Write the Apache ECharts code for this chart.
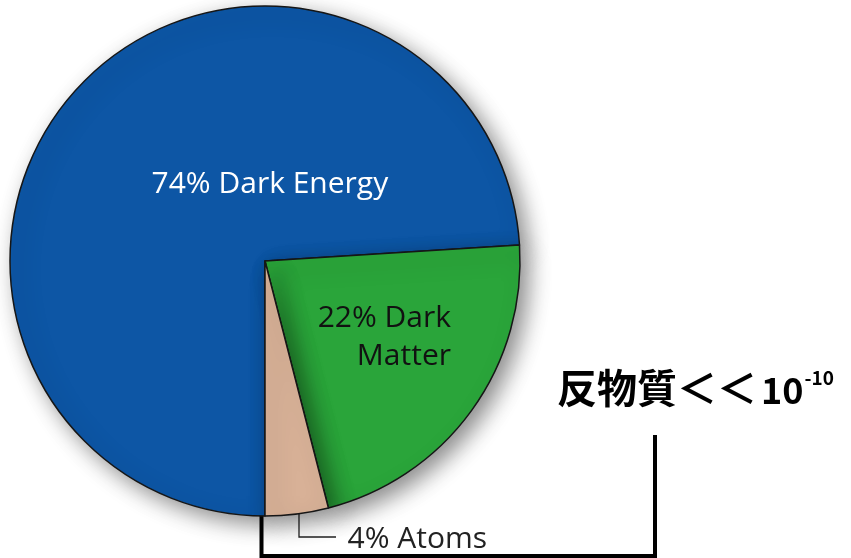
<!DOCTYPE html>
<html>
<head>
<meta charset="utf-8">
<script src="https://cdn.jsdelivr.net/npm/echarts@6/dist/echarts.min.js"></script>
<style>
html,body{margin:0;padding:0;background:#fff;}
#chart{width:851px;height:558px;}
</style>
</head>
<body>
<div id="chart"></div>
<script>
const categories = ['Dark Energy', 'Dark Matter', 'Atoms'];
const values = [74, 22, 4];
const sliceColors = ['#0d56a5', '#2aa53a', '#d8b197'];
const labelTexts = ['74% Dark Energy', '22% Dark\nMatter', '4% Atoms'];
const annotation = { cjk: '反物質＜＜', base: '10', sup: '-10' };

const chart = echarts.init(document.getElementById('chart'));

const labelOpts = [
  { position: 'inside', offset: [100, 13], color: '#ffffff', align: 'center', fontSize: 30 },
  { position: 'inside', offset: [0, 0], color: '#111111', fontSize: 30, lineHeight: 38 },
  { position: 'inside', offset: [136, 149], color: '#222222', align: 'left', fontSize: 30 }
];

const data = categories.map((c, i) => ({
  name: c,
  value: values[i],
  itemStyle: { color: sliceColors[i] },
  label: Object.assign({ show: true, formatter: labelTexts[i], fontFamily: 'Open Sans' }, labelOpts[i])
}));

chart.setOption({
  animation: false,
  backgroundColor: '#ffffff',
  series: [{
    type: 'pie',
    center: [265, 261],
    radius: [0, 255],
    startAngle: -90,
    clockwise: true,
    avoidLabelOverlap: false,
    labelLine: { show: false },
    labelLayout: function (p) {
      if (p.dataIndex === 1) {
        return { x: 451, y: 337, align: 'right', verticalAlign: 'middle' };
      }
      return {};
    },
    itemStyle: {
      borderColor: '#161616',
      borderWidth: 1.5,
      shadowBlur: 22,
      shadowOffsetX: 8,
      shadowOffsetY: 8,
      shadowColor: 'rgba(0,0,0,0.45)'
    },
    emphasis: { disabled: true },
    data: data
  }],
  graphic: [
    {
      type: 'polyline',
      shape: { points: [[299, 492], [299, 537], [336, 537]] },
      style: { stroke: '#222', lineWidth: 1.3, fill: null }
    },
    {
      type: 'polyline',
      shape: { points: [[261.5, 495], [261.5, 556], [655, 556], [655, 435]] },
      style: { stroke: '#000', lineWidth: 4, fill: null }
    },
    {
      type: 'text',
      left: 557,
      top: 368,
      style: {
        text: '{m|' + annotation.cjk + '}{n|' + annotation.base + '}{s|' + annotation.sup + '}',
        rich: {
          m: { fontFamily: 'Noto Sans CJK JP', fontWeight: 'bold', fontSize: 40, fill: '#000', verticalAlign: 'bottom', lineHeight: 44 },
          n: { fontFamily: 'Noto Sans CJK JP', fontWeight: 'bold', fontSize: 36, fill: '#000', verticalAlign: 'bottom', lineHeight: 33, padding: [0, 0, 0, 4] },
          s: { fontFamily: 'Noto Sans CJK JP', fontWeight: 'bold', fontSize: 19, fill: '#000', verticalAlign: 'top', padding: [4, 0, 0, 1] }
        }
      }
    }
  ]
});
</script>
</body>
</html>
